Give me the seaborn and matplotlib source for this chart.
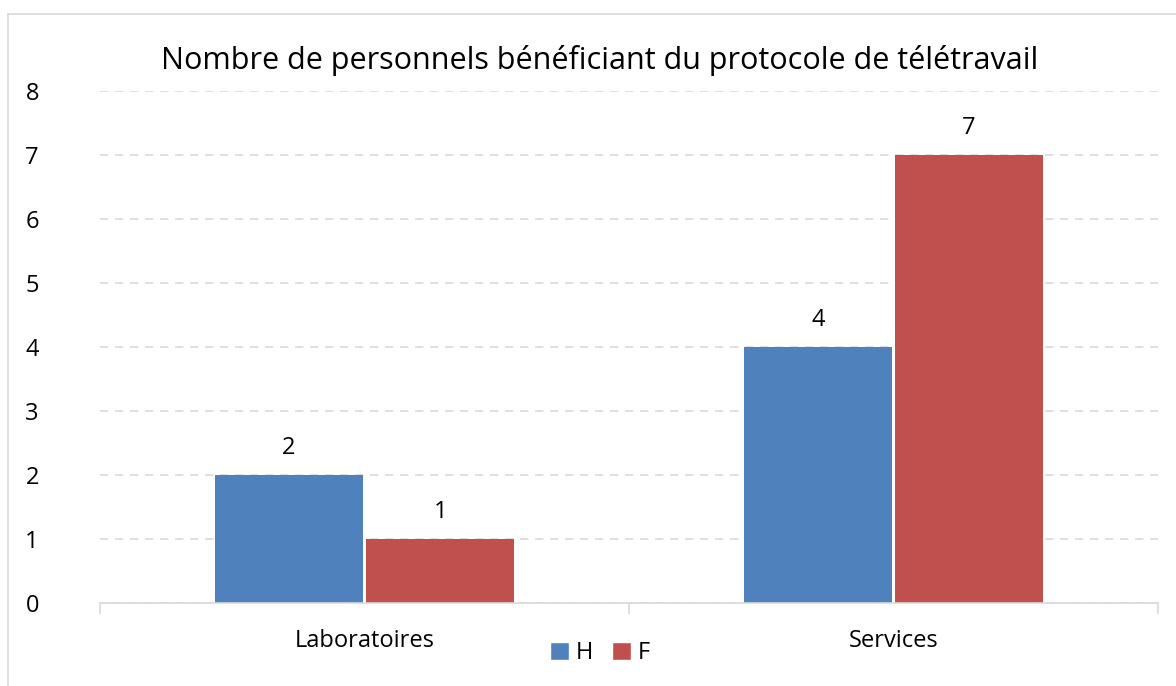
import matplotlib
matplotlib.use("Agg")
import matplotlib.pyplot as plt
import seaborn as sns
import pandas as pd
from matplotlib.lines import Line2D
from matplotlib.patches import Patch

categories = ["Laboratoires", "Services"]
series = ["H", "F"]
values_H = [2, 4]
values_F = [1, 7]
colors = ["#4F81BD", "#C0504D"]
title = "Nombre de personnels bénéficiant du protocole de télétravail"

df = pd.DataFrame({
    "cat": categories * 2,
    "sexe": ["H"] * len(categories) + ["F"] * len(categories),
    "val": values_H + values_F,
})

sns.set_style("white")
plt.rcParams['font.family'] = ['Open Sans', 'DejaVu Sans']
plt.rcParams['text.color'] = 'black'
plt.rcParams['xtick.color'] = 'black'
plt.rcParams['ytick.color'] = 'black'

W, H = 1176, 686
fig = plt.figure(figsize=(W / 100, H / 100), dpi=100)
ax = fig.add_axes([100 / W, 1 - 603 / H, 1058 / W, 512 / H])

sns.barplot(data=df, x="cat", y="val", hue="sexe", hue_order=series,
            palette=colors, width=0.572, gap=0.025, ax=ax, legend=False,
            saturation=1, edgecolor="none")

ax.set_xlim(-0.5, 1.5)
ax.set_ylim(0, 8)
ax.set_yticks(range(0, 9))
ax.grid(axis="y", color="#D9D9D9", linestyle=(0, (5, 4)), linewidth=1.2)
ax.set_axisbelow(True)
for s in ["top", "right", "left"]:
    ax.spines[s].set_visible(False)
ax.spines["bottom"].set_color("#D9D9D9")
ax.spines["bottom"].set_linewidth(1.2)

ax.set_xticks([0, 1])
ax.set_xticklabels(categories, fontsize=17)
ax.tick_params(axis="x", which="major", length=0, pad=19, bottom=True)
ax.set_xticks([-0.5, 0.5, 1.5], minor=True)
ax.tick_params(axis="x", which="minor", length=8, color="#D9D9D9", width=1.2,
               direction="out", bottom=True)
ax.tick_params(axis="y", length=0, labelsize=17, pad=44)
ax.set_xlabel("")
ax.set_ylabel("")

for c in ax.containers:
    ax.bar_label(c, labels=[str(int(v)) for v in c.datavalues], padding=11, fontsize=17)

fig.text(600 / W, 1 - 60 / H, title, ha="center", va="center", fontsize=22)

handles = [Patch(facecolor=colors[i], label=series[i]) for i in range(2)]
fig.legend(handles=handles, loc="center", bbox_to_anchor=(600 / W, 1 - 653 / H),
           ncol=2, frameon=False, fontsize=17, handlelength=0.8, handleheight=0.8,
           handletextpad=0.3, columnspacing=0.8)

fig.add_artist(Line2D([8 / W, 1], [1 - 14 / H, 1 - 14 / H], transform=fig.transFigure,
                      color="#D9D9D9", linewidth=1.2))
fig.add_artist(Line2D([8 / W, 8 / W], [0, 1 - 14 / H], transform=fig.transFigure,
                      color="#D9D9D9", linewidth=1.2))

fig.savefig("out.png", dpi=100)
